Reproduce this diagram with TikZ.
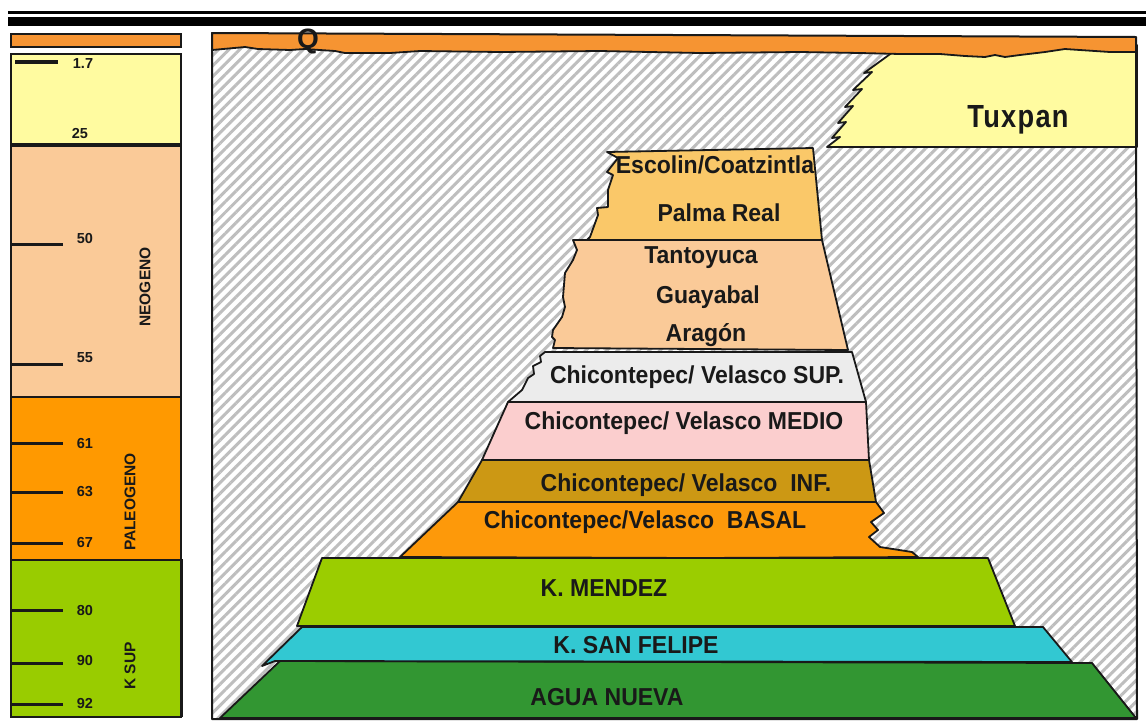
\documentclass[tikz,border=0pt]{standalone}
\usepackage{fontspec}
\setmainfont{Liberation Sans}
\newfontfamily\labfont[FakeStretch=0.94]{Liberation Sans}
\newfontfamily\tuxfont[FakeStretch=0.85,LetterSpace=4]{Liberation Sans}
\usetikzlibrary{patterns.meta}
\definecolor{qor}{RGB}{246,148,50}
\definecolor{colyellow}{RGB}{255,251,160}
\definecolor{colpeach}{RGB}{250,202,152}
\definecolor{colorange}{RGB}{255,153,0}
\definecolor{colgreen}{RGB}{153,204,0}
\definecolor{escol}{RGB}{250,200,105}
\definecolor{supc}{RGB}{236,236,236}
\definecolor{medioc}{RGB}{251,206,206}
\definecolor{infc}{RGB}{204,152,20}
\definecolor{basalc}{RGB}{253,153,10}
\definecolor{mendezc}{RGB}{155,205,0}
\definecolor{felipec}{RGB}{50,200,210}
\definecolor{aguac}{RGB}{50,150,50}
\definecolor{hatchc}{RGB}{190,190,190}
\definecolor{ink}{RGB}{25,25,25}
\begin{document}
\begin{tikzpicture}[x=1pt,y=-1pt,
  lab/.style={font=\labfont\bfseries\fontsize{24.5}{27}\selectfont, inner sep=0pt, text=ink},
  num/.style={font=\bfseries\fontsize{14.5}{16}\selectfont, inner sep=0pt, text=ink},
  era/.style={font=\bfseries\fontsize{15.5}{17}\selectfont, inner sep=0pt, text=ink, rotate=90},
  tickline/.style={line width=3pt, ink},
  layer/.style={draw=ink, line width=1.8pt, line join=round},
  colbox/.style={draw=ink, line width=2.5pt}]
\useasboundingbox (0,0) rectangle (1146,724);
% top rules
\fill[black] (8,11) rectangle (1146,13.5);
\fill[black] (8,17) rectangle (1146,26);

% ---------- stratigraphic column ----------
\draw[colbox, fill=qor] (11,34) rectangle (181,47);
\fill[colyellow] (11,54) rectangle (181,145);
\fill[colpeach] (11,145) rectangle (181,397);
\fill[colorange] (11,397) rectangle (181,560);
\fill[colgreen] (11,560) rectangle (182,717);
\draw[colbox] (11,54) rectangle (181,717);
\draw[line width=3.8pt, ink] (11,145) -- (181,145);
\draw[colbox] (11,397) -- (181,397);
\draw[colbox] (11,560) -- (182,560) -- (182,717);

\draw[tickline, line width=3.8pt] (15,62) -- (58,62);
\foreach \yy in {244,364,443,492,543,610,663,704}
  \draw[tickline] (11,\yy) -- (63,\yy);
\node[num] (n17) at (83,64) {1.7};
\node[num] (n25) at (80,134) {25};
\node[num] (n50) at (85,239) {50};
\node[num] (n55) at (85,358) {55};
\node[num] (n61) at (85,443) {61};
\node[num] (n63) at (85,492) {63};
\node[num] (n67) at (85,542) {67};
\node[num] (n80) at (85,610) {80};
\node[num] (n90) at (85,660) {90};
\node[num] (n92) at (85,703) {92};
\node[era] (neo) at (145,287) {NEOGENO};
\node[era] (paleo) at (130,502) {PALEOGENO};
\node[era] (ksup) at (130,666) {K SUP};

% ---------- cross-section ----------
\fill[white] (212,33) -- (1136,37) -- (1137,719) -- (212,719) -- cycle;
\fill[pattern={Lines[angle=45,distance=7.5pt,line width=3pt]}, pattern color=hatchc]
  (212,33) -- (1136,37) -- (1137,719) -- (212,719) -- cycle;

% Tuxpan
\draw[layer, fill=colyellow] (893,45) -- (1137,45) -- (1137,147) -- (827,147)
  -- (840,137) -- (832,138) -- (846,122) -- (838,123) -- (853,106) -- (845,107)
  -- (862,89) -- (853,90) -- (872,72) -- (864,73) -- (893,52) -- cycle;
\node[font=\tuxfont\bfseries\fontsize{32}{34}\selectfont, inner sep=0pt, text=ink] (tux) at (1018,120) {Tuxpan};

% Q band
\fill[qor] (212,33) -- (1136,37) -- (1137,52) -- (1110,52) -- (1080,50) -- (1065,49)
  -- (1045,52) -- (1020,55) -- (1005,57) -- (995,55) -- (985,57) -- (965,56)
  -- (940,54) -- (900,54) -- (860,53) -- (800,52) -- (700,53) -- (600,51)
  -- (500,52) -- (420,51) -- (390,53) -- (345,53) -- (335,51) -- (305,49)
  -- (290,50) -- (258,49) -- (245,47) -- (212,50) -- cycle;
\draw[ink, line width=1.8pt, line join=round] (1137,52) -- (1110,52) -- (1080,50) -- (1065,49)
  -- (1045,52) -- (1020,55) -- (1005,57) -- (995,55) -- (985,57) -- (965,56)
  -- (940,54) -- (900,54) -- (860,53) -- (800,52) -- (700,53) -- (600,51)
  -- (500,52) -- (420,51) -- (390,53) -- (345,53) -- (335,51) -- (305,49)
  -- (290,50) -- (258,49) -- (245,47) -- (212,50);
\node[font=\bfseries\fontsize{28}{30}\selectfont, inner sep=0pt, text=ink] (q) at (308,41) {Q};

% Agua Nueva
\draw[layer, fill=aguac] (280,661) -- (1092,663) -- (1136,718) -- (220,718) -- cycle;
% San Felipe
\draw[layer, fill=felipec] (302,627) -- (1043,627) -- (1072,662) -- (275,661) -- (262,666) -- cycle;
% Mendez
\draw[layer, fill=mendezc] (322,558) -- (988,558) -- (1015,626) -- (297,626) -- cycle;
% Basal
\draw[layer, fill=basalc] (458,502) -- (876,502) -- (884,513) -- (871,522) -- (878,530)
  -- (869,537) -- (880,547) -- (912,552) -- (918,557) -- (700,558) -- (400,557) -- cycle;
% Inf
\draw[layer, fill=infc] (482,460) -- (869,460) -- (876,502) -- (458,502) -- cycle;
% Medio
\draw[layer, fill=medioc] (508,402) -- (866,402) -- (869,460) -- (482,460) -- cycle;
% Sup
\draw[layer, fill=supc] (545,352) -- (852,352) -- (866,402) -- (508,402)
  -- (522,390) -- (528,378) -- (534,374) -- (533,366) -- (541,362) -- (540,356) -- cycle;
% Tantoyuca
\draw[layer, fill=colpeach] (573,240) -- (822,240) -- (848,350) -- (553,348) -- (555,340)
  -- (552,337) -- (553,330) -- (562,317) -- (565,307) -- (563,297) -- (565,273)
  -- (573,260) -- (577,250) -- cycle;
% Escolin / Palma Real
\draw[layer, fill=escol] (607,152) -- (813,148) -- (822,240) -- (587,240) -- (590,237)
  -- (598,215) -- (597,208) -- (608,207) -- (608,190) -- (613,175) -- (607,172)
  -- (618,158) -- cycle;

% labels
\node[lab] (esc) at (715,165) {Escolin/Coatzintla};
\node[lab] (palma) at (719,213) {Palma Real};
\node[lab] (tanto) at (701,258) {Tantoyuca};
\node[lab] (guaya) at (708,297) {Guayabal};
\node[lab] (arag) at (706,335) {Aragón};
\node[lab] (sup) at (697,377) {Chicontepec/ Velasco SUP.};
\node[lab] (medio) at (684,423) {Chicontepec/ Velasco MEDIO};
\node[lab] (inf) at (686,485) {Chicontepec/ Velasco\ \ INF.};
\node[lab] (basal) at (645,522) {Chicontepec/Velasco\ \ BASAL};
\node[lab] (mendez) at (604,588) {K. MENDEZ};
\node[lab] (felipe) at (636,645) {K. SAN FELIPE};
\node[lab] (agua) at (607,697) {AGUA NUEVA};

% frame
\draw[ink, line width=2pt, line join=round] (212,33) -- (1136,37) -- (1137,719) -- (212,719) -- cycle;
\end{tikzpicture}
\end{document}
